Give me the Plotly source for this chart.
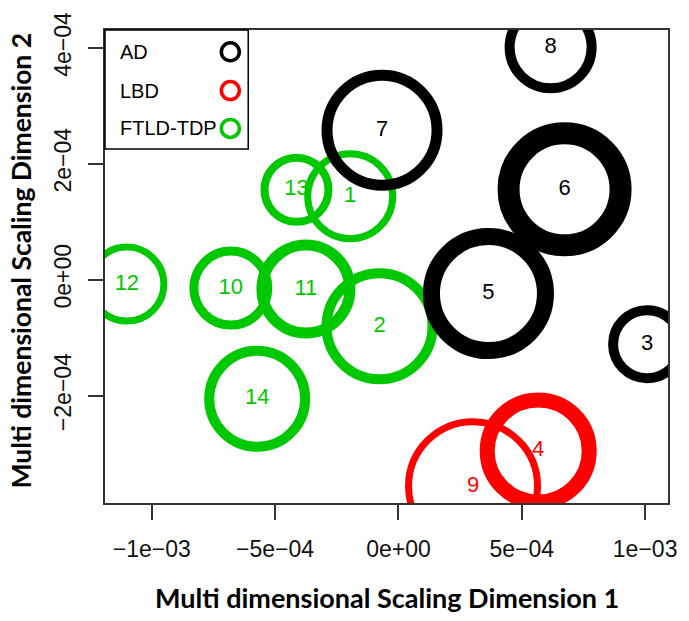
import plotly.graph_objects as go

# ---- data ----
ids = ["1", "2", "3", "4", "5", "6", "7", "8", "9", "10", "11", "12", "13", "14"]
group = ["FTLD-TDP", "FTLD-TDP", "AD", "LBD", "AD", "AD", "AD", "AD", "LBD",
         "FTLD-TDP", "FTLD-TDP", "FTLD-TDP", "FTLD-TDP", "FTLD-TDP"]
dim1 = [-1.956e-4, -7.66e-5, 1.008e-3, 5.665e-4, 3.649e-4, 6.734e-4, -6.65e-5,
        6.169e-4, 3.024e-4, -6.794e-4, -3.750e-4, -1.1008e-3, -4.133e-4, -5.726e-4]
dim2 = [1.439e-4, -8.05e-5, -1.113e-4, -2.955e-4, -2.40e-5, 1.559e-4, 2.578e-4,
        4.009e-4, -3.563e-4, -1.46e-5, -1.63e-5, -7.7e-6, 1.550e-4, -2.056e-4]
# circle diameter (px) and ring thickness (px)
circle_size = [85, 106, 68, 102, 114, 112, 110, 82, 129, 74, 88, 74, 64, 96]
ring_width = [7, 10, 10, 15, 17, 22, 11, 10, 7, 9, 11, 7, 8, 10]

legend_labels = ["AD", "LBD", "FTLD-TDP"]
group_colors = {"AD": "#000000", "LBD": "#FF0000", "FTLD-TDP": "#00C800"}

x_tickvals = [-1e-3, -5e-4, 0, 5e-4, 1e-3]
x_ticktext = ["\u22121e\u221203", "\u22125e\u221204", "0e+00", "5e\u221204", "1e\u221203"]
y_tickvals = [-2e-4, 0, 2e-4, 4e-4]
y_ticktext = ["\u22122e\u221204", "0e+00", "2e\u221204", "4e\u221204"]

colors = [group_colors[g] for g in group]
ARIAL = "Liberation Sans"
TITLEFONT = "Lato"

fig = go.Figure()

# labels first (circles are drawn over them)
fig.add_trace(go.Scatter(
    x=dim1, y=dim2, mode="text", text=ids,
    textfont=dict(family=ARIAL, size=22, color=colors),
    textposition="middle center", hoverinfo="skip", showlegend=False))

fig.add_trace(go.Scatter(
    x=dim1, y=dim2, mode="markers",
    marker=dict(symbol="circle-open", size=circle_size, color=colors,
                line=dict(width=ring_width, color=colors), opacity=1),
    hoverinfo="skip", showlegend=False, cliponaxis=True))

# manual legend (symbols to the right of text, like R legend)
leg_y = [0.954, 0.872, 0.792]
fig.add_trace(go.Scatter(
    x=[0.2226] * 3, y=leg_y, xaxis="x2", yaxis="y2", mode="markers",
    marker=dict(symbol="circle-open", size=18,
                color=[group_colors[g] for g in legend_labels],
                line=dict(width=3.5, color=[group_colors[g] for g in legend_labels])),
    hoverinfo="skip", showlegend=False, cliponaxis=False))
for lab, yy in zip(legend_labels, leg_y):
    fig.add_annotation(x=0.023, y=yy, xref="paper", yref="paper", text=lab,
                       showarrow=False, xanchor="left", yanchor="middle",
                       font=dict(family=ARIAL, size=20, color="black"))
fig.add_shape(type="rect", xref="paper", yref="paper", x0=0, x1=0.2544,
              y0=0.7484, y1=1.0, line=dict(color="black", width=1.5),
              fillcolor="rgba(0,0,0,0)", layer="above")

# axis titles
fig.add_annotation(x=0.5, y=0, xref="paper", yref="paper", yanchor="middle",
                   yshift=-94, showarrow=False,
                   text="<b>Multi dimensional Scaling Dimension 1</b>",
                   font=dict(family=TITLEFONT, size=27, color="black"))
fig.add_annotation(x=0, y=0.5, xref="paper", yref="paper", xanchor="center",
                   xshift=-85, yshift=6, showarrow=False, textangle=-90,
                   text="<b>Multi dimensional Scaling Dimension 2</b>",
                   font=dict(family=TITLEFONT, size=26.5, color="black"))

axis_common = dict(showgrid=False, zeroline=False, showline=True, mirror=True,
                   linecolor="#333333", linewidth=1.5, ticks="outside", ticklen=15,
                   tickwidth=1.5, tickcolor="#333333",
                   tickfont=dict(family=ARIAL, size=23, color="#111111"))

fig.update_layout(
    width=689, height=621,
    margin=dict(l=105, r=18, t=26, b=118),
    paper_bgcolor="white", plot_bgcolor="white",
    xaxis=dict(range=[-1.1895e-3, 1.0927e-3], tickvals=x_tickvals, ticktext=x_ticktext,
               ticklabelstandoff=10, **axis_common),
    yaxis=dict(range=[-3.854e-4, 4.308e-4], tickvals=y_tickvals, ticktext=y_ticktext,
               tickangle=-90, ticklabelstandoff=8, **axis_common),
    xaxis2=dict(overlaying="x", range=[0, 1], visible=False, fixedrange=True),
    yaxis2=dict(overlaying="y", range=[0, 1], visible=False, fixedrange=True),
    showlegend=False,
)

fig.write_html("out.html", config={"displayModeBar": False},
               post_script="document.body.style.margin='0';document.body.style.padding='0';")
